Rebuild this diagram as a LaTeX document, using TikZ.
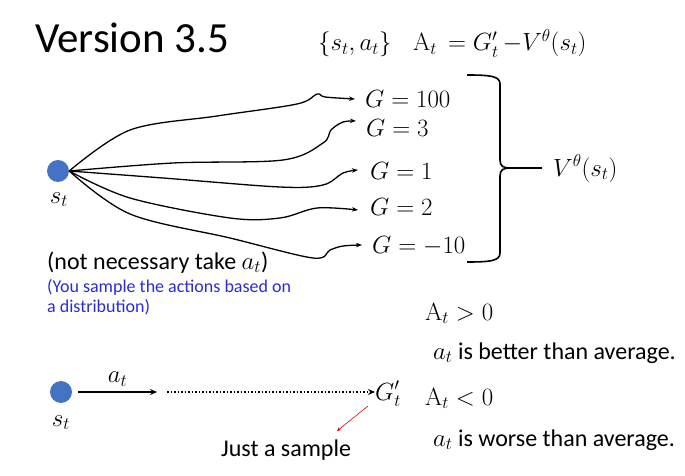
\documentclass[tikz,border=0pt]{standalone}
\usepackage[no-math]{fontspec}
\setmainfont{Carlito}
\usetikzlibrary{arrows.meta}
\definecolor{dotblue}{HTML}{4472C4}
\definecolor{txtblue}{HTML}{2A2AD8}
\begin{document}
\begin{tikzpicture}[x=1pt,y=-1pt,
  state/.style={circle,fill=dotblue,minimum size=22pt,inner sep=0pt},
  mtxt/.style={inner sep=0pt,anchor=base west,font=\fontsize{25}{30}\selectfont},
  ttxt/.style={inner sep=0pt,anchor=base west,font=\fontsize{24}{28}\selectfont},
  path/.style={line width=1.3pt,-{Stealth[length=6pt,width=4.5pt]}},
]
\useasboundingbox (0,0) rectangle (685,476);
% title
\node[inner sep=0pt,anchor=base west,font=\fontsize{43}{48}\selectfont] (title) at (35,53) {Version 3.5};
\node[mtxt] (pair) at (318,51) {$\{s_t,a_t\}$};
\node[mtxt] (adef) at (413,51) {$\mathrm{A}_t\,=G'_t\,{-}V^{\theta}(s_t)$};
% upper state
\node[state] (s1) at (58,171) {};
\node[mtxt,anchor=base] (s1l) at (59,203) {$s_t$};
% outcomes
\node[mtxt] (g100) at (365,108) {$G=100$};
\node[mtxt] (g3) at (366,137) {$G=3$};
\node[mtxt] (g1) at (370,179) {$G=1$};
\node[mtxt] (g2) at (370,215) {$G=2$};
\node[mtxt] (gm10) at (372,253) {$G=-10$};
\coordinate (e100) at (355,99);
\coordinate (e3) at (356,121);
\coordinate (e1) at (358,170);
\coordinate (e2) at (358,210);
\coordinate (em10) at (362,245);
\draw[path] plot[smooth,tension=0.55] coordinates {(s1.east) (130,130) (217,116) (297,104) (317,94) (325,97) (e100)};
\draw[path] plot[smooth,tension=0.55] coordinates {(s1.east) (173,163) (283,160) (323,143) (331,130) (343,122) (e3)};
\draw[path] plot[smooth,tension=0.55] coordinates {(s1.east) (163,178) (280,187) (323,185) (343,173) (e1)};
\draw[path] plot[smooth,tension=0.55] coordinates {(s1.east) (130,198) (230,218) (280,218) (317,208) (e2)};
\draw[path] plot[smooth,tension=0.55] coordinates {(s1.east) (130,214) (230,238) (313,258) (330,250) (343,246) (em10)};
% brace
\coordinate (btip) at (542,168);
\draw[line width=1.6pt,line join=round] (467,75) .. controls (490,75) and (500,76) .. (500,84) -- (500,160) .. controls (500,166) and (503,168) .. (510,168) -- (btip);
\draw[line width=1.6pt,line join=round] (467,262) .. controls (490,262) and (500,261) .. (500,253) -- (500,176) .. controls (500,170) and (503,168) .. (510,168);
\node[mtxt] (vs) at (553,176) {$V^{\theta}(s_t)$};
% notes
\node[ttxt] (note) at (47,269) {(not necessary take $a_t$)};
\node[inner sep=0pt,anchor=base west,align=left,text=txtblue,font=\fontsize{18}{19.5}\selectfont] (blue) at (47,312) {(You sample the actions based on\\a distribution)};
% right statements
\node[mtxt] (apos) at (425,320) {$\mathrm{A}_t>0$};
\node[ttxt] (better) at (433,359) {$a_t$ is better than average.};
\node[mtxt] (aneg) at (425,405) {$\mathrm{A}_t<0$};
\node[ttxt] (worse) at (433,446) {$a_t$ is worse than average.};
% lower state
\node[state] (s2) at (61,392) {};
\node[mtxt,anchor=base] (s2l) at (61,426) {$s_t$};
\coordinate (a1) at (157,392);
\coordinate (d0) at (167,392);
\node[mtxt] (gp) at (375,400) {$G'_t$};
\draw[line width=1.6pt,-{Stealth[length=7pt,width=6pt]}] (s2.east)++(6,0) coordinate (a0) -- (a1) node[midway,above=5pt,inner sep=0pt,font=\fontsize{25}{30}\selectfont] (al) {$a_t$};
\draw[line width=1.5pt,dotted,-{Stealth[length=7pt,width=6pt]}] (d0) -- (gp.west|-d0);
\node[ttxt] (js) at (221,456) {Just a sample};
\draw[red!85!black,line width=0.6pt,-{Stealth[length=4pt,width=3.5pt]}] (368,406) -- (337,431);
\end{tikzpicture}
\end{document}
